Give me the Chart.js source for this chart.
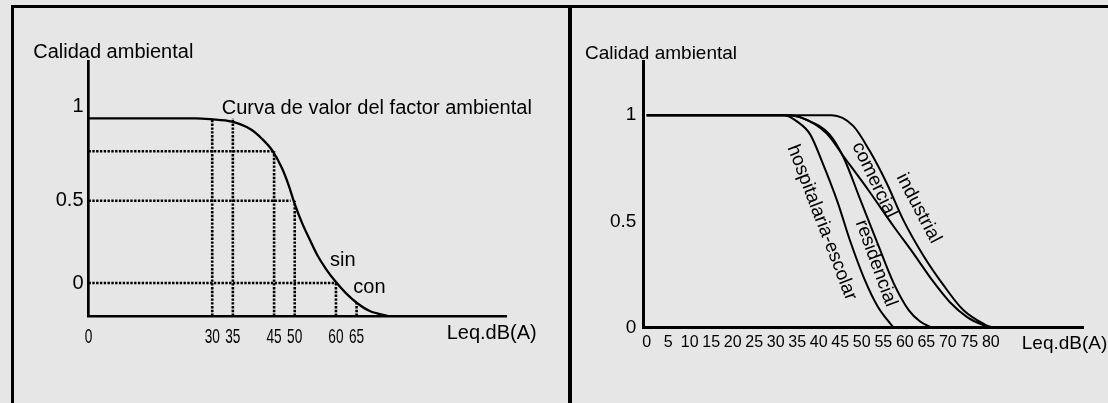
<!DOCTYPE html>
<html>
<head>
<meta charset="utf-8">
<title>Calidad ambiental</title>
<script src="https://cdn.jsdelivr.net/npm/chart.js@4.4.1/dist/chart.umd.min.js"></script>
<style>
  body { margin: 0; width: 1108px; height: 403px; overflow: hidden; position: relative;
         background: #e6e6e6; font-family: Arial, "Liberation Sans", sans-serif; }
  .linea { position: absolute; background: #000; }
  .panel { position: absolute; top: 8px; height: 395px; }
</style>
</head>
<body>
<div class="linea" style="left:11px; top:5px; width:1097px; height:3px"></div>
<div class="linea" style="left:11px; top:5px; width:3px; height:398px"></div>
<div class="linea" style="left:568px; top:5px; width:4px; height:398px"></div>
<div class="panel" style="left:14px; width:554px"><canvas id="curvaFactor" width="554" height="395"></canvas></div>
<div class="panel" style="left:572px; width:536px"><canvas id="curvaZonas" width="536" height="395"></canvas></div>
<script>
// Panel izquierdo: curva de valor del factor ambiental
const curvaX = [0, 26, 29.5, 34.8, 39.2, 42.1, 44.7, 46.9, 48.6, 50, 51.8, 53.7, 55.6, 57.6, 59.8, 62.4, 65.1, 68.2, 72.6];
const curvaY = [1, 1, 0.995, 0.98, 0.935, 0.875, 0.8, 0.698, 0.589, 0.48, 0.364, 0.261, 0.164, 0.085, 0.012, -0.061, -0.121, -0.17, -0.2];
// guias punteadas horizontales (nivel y hasta donde llegan)
const nivelesGuia = [0.8, 0.5, 0];
const finNivelGuia = [45, 49, 60];
// guias punteadas verticales (valor dB y hasta donde suben)
const marcasGuia = [30, 35, 45, 50, 60, 65];
const topeMarcaGuia = [1, 1, 0.8, 0.5, 0, -0.12];
const ticksXIzq = [0, 30, 35, 45, 50, 60, 65];
const ticksYIzq = [0, 0.5, 1];
const etiquetasYIzq = ['0', '0.5', '1'];

// Panel derecho: curvas por tipo de zona
const zonas = ['hospitalaria-escolar', 'residencial', 'comercial', 'industrial'];
const hospitalariaX = [0, 32, 35, 38, 41, 44.4, 47.1, 50.6, 53.7, 57.4];
const hospitalariaY = [1, 1, 0.97, 0.91, 0.77, 0.59, 0.42, 0.23, 0.1, 0];
const residencialX = [0, 33, 37, 42.5, 45.8, 49.7, 53.6, 57.4, 61, 63.5, 66.2];
const residencialY = [1, 1, 0.98, 0.91, 0.8, 0.6, 0.4, 0.21, 0.08, 0.03, 0];
const comercialX = [0, 32, 35.8, 41.8, 46, 51.8, 57.3, 62, 66.5, 70.5, 74.5, 78.5, 80];
const comercialY = [1, 1, 0.99, 0.915, 0.8, 0.64, 0.48, 0.35, 0.22, 0.12, 0.05, 0.01, 0];
const industrialX = [0, 43, 48, 51.9, 55.8, 59.7, 64.3, 69, 73.6, 78.6, 80.5];
const industrialY = [1, 1, 0.95, 0.83, 0.68, 0.505, 0.34, 0.2, 0.083, 0.015, 0];
const ticksXDer = [0, 5, 10, 15, 20, 25, 30, 35, 40, 45, 50, 55, 60, 65, 70, 75, 80];
const ticksYDer = [0, 0.5, 1];
const etiquetasYDer = ['0', '0.5', '1'];

const fuente = 'Arial, "Liberation Sans", sans-serif';
const yMinIzq = -0.2;

function puntos(xs, ys) {
    return xs.map((x, i) => ({ x: x, y: ys[i] }));
}

// textos sobre el grafico, colocados en coordenadas de datos
const textosPlugin = {
    id: 'textos',
    afterDraw(chart, args, opts) {
        const { ctx } = chart;
        const sx = chart.scales.x, sy = chart.scales.y;
        ctx.save();
        ctx.fillStyle = '#000';
        ctx.textBaseline = 'middle';
        opts.items.forEach(t => {
            ctx.save();
            ctx.font = t.font || opts.font;
            ctx.textAlign = t.align || 'left';
            ctx.translate(sx.getPixelForValue(t.x), sy.getPixelForValue(t.y));
            if (t.angle) ctx.rotate(t.angle * Math.PI / 180);
            if (t.estrecho) ctx.scale(t.estrecho, 1);
            ctx.fillText(t.text, 0, 0);
            ctx.restore();
        });
        ctx.restore();
    }
};

const lineaBase = {
    borderColor: '#000',
    pointRadius: 0,
    fill: false,
    borderWidth: 2,
    cubicInterpolationMode: 'monotone'
};
const punteado = {
    borderColor: '#000',
    pointRadius: 0,
    fill: false,
    borderWidth: 2.4,
    borderDash: [2.4, 1.4],
    tension: 0
};

// ---------- grafico izquierdo ----------
const datasetsIzq = [];
nivelesGuia.forEach((nv, i) => {
    datasetsIzq.push(Object.assign({}, punteado, { data: [{ x: 0, y: nv }, { x: finNivelGuia[i], y: nv }] }));
});
marcasGuia.forEach((mx, i) => {
    datasetsIzq.push(Object.assign({}, punteado, { borderWidth: 2.6, data: [{ x: mx, y: yMinIzq }, { x: mx, y: topeMarcaGuia[i] }] }));
});
datasetsIzq.push(Object.assign({}, lineaBase, { borderWidth: 2.3, data: puntos(curvaX, curvaY) }));

// etiquetas del eje x izquierdo en letra estrecha (como el original)
const etiquetasXIzq = ticksXIzq.map(v => ({
    text: String(v), x: v, y: -0.331, align: 'center', estrecho: 0.65, font: '21px ' + fuente
}));

new Chart(document.getElementById('curvaFactor'), {
    type: 'line',
    data: { datasets: datasetsIzq },
    options: {
        responsive: false,
        animation: false,
        events: [],
        layout: { padding: { top: 53.7, right: 61.3, bottom: 0, left: 0 } },
        plugins: {
            legend: { display: false },
            tooltip: { enabled: false },
            textos: {
                font: '20px ' + fuente,
                items: [
                    { text: 'Calidad ambiental', x: -13.4, y: 1.397 },
                    { text: 'Curva de valor del factor ambiental', x: 32.3, y: 1.062 },
                    { text: 'sin', x: 58.55, y: 0.138 },
                    { text: 'con', x: 64.2, y: -0.025 },
                    { text: 'Leq.dB(A)', x: 86.85, y: -0.308 }
                ].concat(etiquetasXIzq)
            }
        },
        scales: {
            x: {
                type: 'linear', min: 0, max: 101.4,
                grid: { display: false, drawTicks: false },
                border: { display: true, color: '#000', width: 2.5 },
                afterBuildTicks: s => { s.ticks = ticksXIzq.map(v => ({ value: v })); },
                afterFit: s => { s.height = 87; },
                ticks: { display: false }
            },
            y: {
                type: 'linear', min: yMinIzq, max: 1.344,
                grid: { display: false, drawTicks: false },
                border: { display: true, color: '#000', width: 2.7 },
                afterBuildTicks: s => { s.ticks = ticksYIzq.map(v => ({ value: v })); },
                afterFit: s => { s.width = 74.5; },
                ticks: {
                    padding: 5, color: '#000',
                    font: { family: fuente, size: 20 },
                    callback: (v) => {
                        const txt = etiquetasYIzq[ticksYIzq.indexOf(v)];
                        return v === 1 ? [txt, ''] : txt;
                    }
                }
            }
        }
    },
    plugins: [textosPlugin]
});

// ---------- grafico derecho ----------
const seriesDer = [
    puntos(hospitalariaX, hospitalariaY),
    puntos(residencialX, residencialY),
    puntos(comercialX, comercialY),
    puntos(industrialX, industrialY)
];

new Chart(document.getElementById('curvaZonas'), {
    type: 'line',
    data: {
        datasets: seriesDer.map((d, i) => Object.assign({}, lineaBase, { label: zonas[i], data: d }))
    },
    options: {
        responsive: false,
        animation: false,
        events: [],
        layout: { padding: { top: 53.7, right: 24.7, bottom: 0, left: 0 } },
        plugins: {
            legend: { display: false },
            tooltip: { enabled: false },
            textos: {
                font: '19px ' + fuente,
                items: [
                    { text: 'Calidad ambiental', x: -14.35, y: 1.291 },
                    { text: 'Leq.dB(A)', x: 87.2, y: -0.077 },
                    { text: zonas[0], x: 40.7, y: 0.495, angle: 69, align: 'center' },
                    { text: zonas[1], x: 53.3, y: 0.303, angle: 70, align: 'center' },
                    { text: zonas[2], x: 52.9, y: 0.695, angle: 64.5, align: 'center' },
                    { text: zonas[3], x: 63.2, y: 0.562, angle: 62.3, align: 'center' }
                ]
            }
        },
        scales: {
            x: {
                type: 'linear', min: -0.79, max: 101.5,
                grid: { display: false, drawTicks: false },
                border: { display: true, color: '#000', width: 3 },
                afterBuildTicks: s => { s.ticks = ticksXDer.map(v => ({ value: v })); },
                afterFit: s => { s.height = 75.3; },
                ticks: {
                    autoSkip: false, maxRotation: 0, padding: 5.7, color: '#000',
                    font: { family: fuente, size: 16 },
                    callback: v => String(v)
                }
            },
            y: {
                type: 'linear', min: 0, max: 1.252,
                grid: { display: false, drawTicks: false },
                border: { display: true, color: '#000', width: 3 },
                afterBuildTicks: s => { s.ticks = ticksYDer.map(v => ({ value: v })); },
                afterFit: s => { s.width = 71.3; },
                ticks: {
                    padding: 7, color: '#000',
                    font: { family: fuente, size: 19 },
                    callback: v => etiquetasYDer[ticksYDer.indexOf(v)]
                }
            }
        }
    },
    plugins: [textosPlugin]
});
</script>
</body>
</html>
